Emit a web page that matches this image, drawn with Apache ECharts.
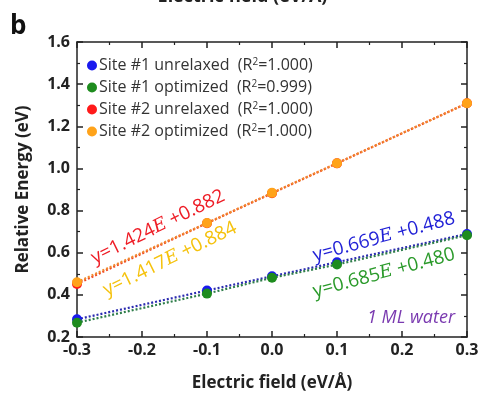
<!DOCTYPE html>
<html><head><meta charset="utf-8">
<script src="https://cdn.jsdelivr.net/npm/echarts@6/dist/echarts.min.js"></script>
<style>html,body{margin:0;padding:0;background:#fff}#c{width:485px;height:398px}</style>
</head><body><div id="c"></div>
<script>
const fieldX = [-0.3, -0.1, 0.0, 0.1, 0.3];
const site1Unrelaxed = [0.284, 0.421, 0.488, 0.555, 0.689];
const site1Optimized = [0.268, 0.406, 0.481, 0.544, 0.683];
const site2Unrelaxed = [0.452, 0.740, 0.882, 1.024, 1.309];
const site2Optimized = [0.460, 0.741, 0.884, 1.025, 1.309];
const seriesNames = ['Site #1 unrelaxed', 'Site #1 optimized', 'Site #2 unrelaxed', 'Site #2 optimized'];
const r2Values = ['1.000', '0.999', '1.000', '1.000'];
const markerColors = ['#1a1aee', '#1e8c1e', '#ff1a1a', '#ffa31a'];
const lineColors = ['#2b2bb0', '#2e7d4a', '#ee4422', '#f28a2e'];
const xTicks = [-0.3, -0.2, -0.1, 0.0, 0.1, 0.2, 0.3];
const yTicks = [0.2, 0.4, 0.6, 0.8, 1.0, 1.2, 1.4, 1.6];

const F = '"Open Sans", "Noto Sans", sans-serif';
const allSeries = [site1Unrelaxed, site1Optimized, site2Unrelaxed, site2Optimized];
const chart = echarts.init(document.getElementById('c'), null, {renderer: 'canvas'});

const axisCommon = {
  axisLine: {show: true, onZero: false, lineStyle: {color: '#222', width: 1.5}},
  axisTick: {show: true, inside: true, length: 6, lineStyle: {color: '#222', width: 1.5}},
  minorTick: {show: true, splitNumber: 2, length: 3, lineStyle: {color: '#222', width: 1.2}},
  splitLine: {show: false}
};

const series = allSeries.map((vals, i) => ({
  name: seriesNames[i],
  type: 'line',
  data: fieldX.map((x, j) => [x, vals[j]]),
  symbol: 'circle',
  symbolSize: 10,
  itemStyle: {color: markerColors[i]},
  lineStyle: {color: lineColors[i], width: 2.2, type: [2, 2]},
  z: 2 + i
}));

function eqText(x, y, deg, coef, icpt, color) {
  return {type: 'text', x: x, y: y, rotation: deg * Math.PI / 180,
    style: {rich: {i: {fontStyle: 'italic', fontFamily: '"DejaVu Serif", serif', fontSize: 18, fill: color}},
      text: 'y=' + coef + '{i|E} +' + icpt, font: '19px ' + F, fill: color, align: 'center', verticalAlign: 'middle'}};
}

chart.setOption({
  animation: false,
  grid: {left: 77, right: 18, top: 42, bottom: 61},
  legend: {
    orient: 'vertical', left: 82, top: 52, itemGap: 5,
    icon: 'circle', itemWidth: 10, itemHeight: 10,
    data: seriesNames,
    formatter: function (name) {
      const i = seriesNames.indexOf(name);
      return name + '  (R{sup|2}=' + r2Values[i] + ')';
    },
    textStyle: {fontFamily: F, fontSize: 16, color: '#333', padding: [0, 0, 0, -3], lineHeight: 17,
      rich: {sup: {fontSize: 10, verticalAlign: 'top', padding: [0, 0, 6, 0], fontFamily: F, color: '#333'}}}
  },
  xAxis: [
    Object.assign({}, axisCommon, {
      type: 'value', min: -0.3, max: 0.3, interval: 0.1,
      name: 'Electric field (eV/Å)', nameLocation: 'middle', nameGap: 38,
      nameTextStyle: {fontFamily: F, fontSize: 17, fontWeight: 'bold', color: '#222'},
      axisLabel: {fontFamily: F, fontSize: 16, fontWeight: 'bold', color: '#222', margin: 5,
        formatter: v => v.toFixed(1)}
    }),
    Object.assign({}, axisCommon, {
      type: 'value', min: -0.3, max: 0.3, interval: 0.1, position: 'top',
      axisLabel: {show: false}
    })
  ],
  yAxis: [
    Object.assign({}, axisCommon, {
      type: 'value', min: 0.2, max: 1.6, interval: 0.2,
      name: 'Relative Energy (eV)', nameLocation: 'middle', nameGap: 45,
      nameTextStyle: {fontFamily: F, fontSize: 17, fontWeight: 'bold', color: '#222'},
      axisLabel: {fontFamily: F, fontSize: 16, fontWeight: 'bold', color: '#222', margin: 7,
        formatter: v => v.toFixed(1)}
    }),
    Object.assign({}, axisCommon, {
      type: 'value', min: 0.2, max: 1.6, interval: 0.2, position: 'right',
      axisLabel: {show: false}
    })
  ],
  series: series,
  graphic: [
    {type: 'text', left: 'center', top: -12, style: {text: 'Electric field (eV/Å)', font: 'bold 18px ' + F, fill: '#222'}},
    {type: 'text', left: 10, top: 14, style: {text: 'b', font: 'bold 26px ' + F, fill: '#111'}},
    eqText(158, 227, 26, '1.424', '0.882', '#ee1c25'),
    eqText(170, 259, 26, '1.417', '0.884', '#f5c20c'),
    eqText(384, 237, 15, '0.669', '0.488', '#1f1fd6'),
    eqText(384, 273, 15, '0.685', '0.480', '#2a9a2a'),
    {type: 'text', x: 455, y: 318,
      style: {text: '1 ML water', font: 'italic 18px ' + F, fill: '#7a3ab0', align: 'right', verticalAlign: 'middle'}}
  ]
});
</script></body></html>
